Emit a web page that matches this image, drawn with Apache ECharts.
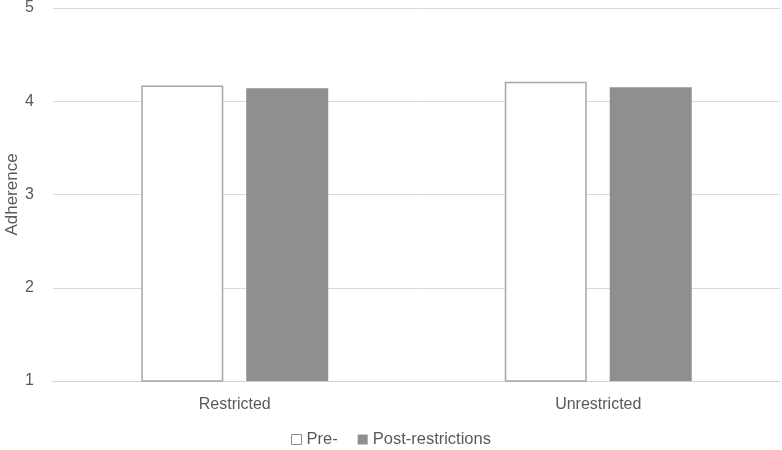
<!DOCTYPE html>
<html><head><meta charset="utf-8">
<script src="https://cdn.jsdelivr.net/npm/echarts@6/dist/echarts.min.js"></script>
<style>html,body{margin:0;padding:0;background:#fff}#c{width:782px;height:450px}</style>
</head><body><div id="c"></div>
<script>
const categories = ['Restricted', 'Unrestricted'];
const preValues = [4.17, 4.21];
const postValues = [4.14, 4.15];
const yTicks = [1, 2, 3, 4, 5];
const seriesNames = ['Pre-', 'Post-restrictions'];

const chart = echarts.init(document.getElementById('c'));
const font = 'Liberation Sans, Arial, sans-serif';
chart.setOption({
  animation: false,
  textStyle: {fontFamily: font},
  grid: {left: 53, right: 2, top: 8, bottom: 69, containLabel: false, outerBoundsMode: 'none'},
  legend: {
    bottom: -3, left: 'center', itemWidth: 10, itemHeight: 10, itemGap: 20,
    icon: 'rect',
    textStyle: {fontSize: 16.5, color: '#595959', fontFamily: font},
    data: [
      {name: seriesNames[0], itemStyle: {color: '#fff', borderColor: '#8c8c8c', borderWidth: 1}},
      {name: seriesNames[1], itemStyle: {color: '#8f8f8f'}}
    ]
  },
  xAxis: {
    type: 'category', data: categories,
    axisLine: {lineStyle: {color: '#d0d0d0'}},
    axisTick: {show: false},
    axisLabel: {fontSize: 16, color: '#595959', margin: 16, fontFamily: font}
  },
  yAxis: {
    type: 'value', min: yTicks[0], max: yTicks[yTicks.length - 1], interval: 1,
    name: 'Adherence', nameLocation: 'middle', nameGap: 32, nameRotate: 90,
    nameMoveOverlap: false,
    nameTextStyle: {fontSize: 17, color: '#595959', fontFamily: font},
    axisLine: {show: false}, axisTick: {show: false},
    axisLabel: {fontSize: 16, color: '#595959', margin: 19, fontFamily: font},
    splitLine: {lineStyle: {color: '#d9d9d9'}}
  },
  series: [
    {name: seriesNames[0], type: 'bar', data: preValues, barWidth: 82, barGap: '28%',
     itemStyle: {color: '#ffffff', borderColor: '#a6a6a6', borderWidth: 1.5}},
    {name: seriesNames[1], type: 'bar', data: postValues, barWidth: 82,
     itemStyle: {color: '#8f8f8f'}}
  ]
});
</script></body></html>
